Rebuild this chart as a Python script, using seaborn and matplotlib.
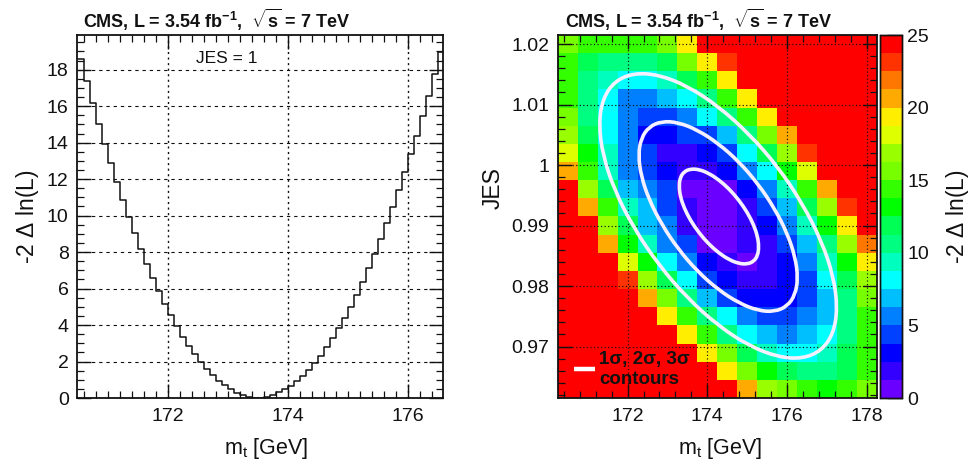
import numpy as np
import matplotlib
matplotlib.use("Agg")
import matplotlib.pyplot as plt
from matplotlib.colors import ListedColormap
from matplotlib.patches import PathPatch
from matplotlib.path import Path
from matplotlib.ticker import MultipleLocator, FixedLocator, FixedFormatter
import seaborn as sns

# ---- left panel: 1D profile, JES = 1
nll_1d = [18.6, 17.4, 16.18, 15.03, 13.92, 12.86, 11.82, 10.85, 9.92, 9.02,
          8.16, 7.34, 6.58, 5.84, 5.15,
          4.53, 3.93, 3.36, 2.87, 2.39, 1.95, 1.57, 1.24, 0.95, 0.71,
          0.47, 0.30, 0.16, 0.07, 0.01, 0.0, 0.07, 0.16, 0.31, 0.47,
          0.66, 0.91, 1.22, 1.53, 1.90, 2.32, 2.78, 3.27, 3.82, 4.40,
          5.0, 5.66, 6.36, 7.11, 7.87, 8.70, 9.57, 10.45, 11.38, 12.37,
          13.35, 14.39, 15.47, 16.58, 17.75, 18.98]
mt_bins = [round(170.5 + 0.1 * i, 1) for i in range(len(nll_1d) + 1)]

# ---- right panel: colour band of each cell, read top row first
bands = [
    [12, 11, 11, 11, 11, 12, 15, 19, 19, 19, 19, 19, 19, 19, 19, 19],
    [11,  9,  8,  8,  8,  9, 12, 15, 18, 19, 19, 19, 19, 19, 19, 19],
    [11,  8,  7,  6,  6,  7,  9, 11, 15, 19, 19, 19, 19, 19, 19, 19],
    [11,  8,  6,  4,  4,  5,  6,  8, 11, 15, 19, 19, 19, 19, 19, 19],
    [12,  8,  6,  4,  3,  3,  4,  6,  8, 11, 15, 19, 19, 19, 19, 19],
    [13,  9,  6,  4,  2,  2,  3,  3,  5,  8, 12, 16, 19, 19, 19, 19],
    [14, 10,  7,  4,  3,  1,  1,  2,  3,  6,  9, 13, 18, 19, 19, 19],
    [16, 11,  7,  4,  3,  2,  1,  1,  2,  4,  6, 10, 14, 19, 19, 19],
    [19, 13,  9,  5,  4,  3,  0,  0,  0,  2,  4,  7, 11, 16, 19, 19],
    [19, 16, 11,  7,  5,  3,  1,  0,  0,  1,  3,  5,  9, 13, 18, 19],
    [19, 19, 13,  9,  5,  4,  1,  0,  0,  1,  2,  4,  7, 10, 15, 19],
    [19, 19, 16, 10,  7,  4,  3,  0,  0,  1,  1,  3,  5,  8, 13, 17],
    [19, 19, 19, 14, 10,  6,  4,  2,  1,  0,  1,  2,  4,  7, 10, 15],
    [19, 19, 19, 18, 13,  9,  6,  3,  2,  1,  1,  2,  3,  6,  9, 13],
    [19, 19, 19, 19, 16, 12,  8,  5,  3,  2,  2,  2,  3,  5,  8, 12],
    [19, 19, 19, 19, 19, 15, 11,  8,  6,  4,  3,  3,  4,  5,  8, 11],
    [19, 19, 19, 19, 19, 19, 15, 11,  8,  6,  5,  4,  5,  6,  8, 11],
    [19, 19, 19, 19, 19, 19, 19, 15, 12,  9,  7,  6,  6,  7,  9, 11],
    [19, 19, 19, 19, 19, 19, 19, 19, 15, 12, 10,  9,  8,  8,  9, 11],
    [19, 19, 19, 19, 19, 19, 19, 19, 19, 16, 13, 12, 11, 10, 11, 12],
]
palette = ["#6a00ff", "#3300ff", "#0000ff", "#0040ff", "#0080ff", "#00bfff",
           "#00ffff", "#00ffbf", "#00ff80", "#00ff55", "#00ff00", "#33ff00",
           "#77ff00", "#99ff00", "#ddff00", "#ffee00", "#ffaa00", "#ff7700",
           "#ff3300", "#ff0000"]

# ---- contour outlines
c3_x = [177.26,177.16,176.86,176.38,175.77,175.04,174.27,173.50,172.78,172.16,171.68,171.38,
        171.28,171.38,171.68,172.16,172.78,173.50,174.27,175.04,175.77,176.38,176.86,177.16]
c3_y = [.97636,.98157,.98748,.99366,.99971,1.0052,1.00975,1.01307,1.01494,1.01521,1.01388,1.01101,
        1.00684,1.00163,.99572,.98954,.98349,.978,.97345,.97013,.96826,.96799,.96932,.97219]
c2_x = [176.27,176.20,176.00,175.68,175.27,174.79,174.27,173.75,173.27,172.86,172.54,172.34,
        172.27,172.34,172.54,172.86,173.27,173.75,174.27,174.79,175.27,175.68,176.00,176.20]
c2_y = [.98134,.98482,.98875,.99287,.9969,1.00057,1.0036,1.00581,1.00706,1.00724,1.00635,1.00444,
        1.00166,.99818,.99425,.99013,.9861,.98243,.9794,.97719,.97594,.97576,.97665,.97856]
c1_x = [175.29,175.26,175.16,175.0,174.79,174.55,174.29,174.03,173.79,173.58,173.42,173.32,
        173.29,173.32,173.42,173.58,173.79,174.03,174.29,174.55,174.79,175.0,175.16,175.26]
c1_y = [.98642,.98816,.99013,.99219,.9942,.99603,.99755,.99866,.99928,.99937,.99893,.99797,
        .99658,.99484,.99287,.99081,.9888,.98697,.98545,.98434,.98372,.98363,.98407,.98503]

y_ticks_r = [0.97, 0.98, 0.99, 1.0, 1.01, 1.02]
y_labels_r = ["0.97", "0.98", "0.99", "1", "1.01", "1.02"]
x_ticks_r = [172, 174, 176, 178]

sns.set_theme(style="ticks")
plt.rcParams.update({
    "font.family": ["Liberation Sans", "DejaVu Sans"],
    "mathtext.fontset": "custom",
    "mathtext.rm": "Liberation Sans",
    "mathtext.bf": "Liberation Sans:bold",
    "mathtext.it": "Liberation Sans:italic",
    "mathtext.default": "regular",
    "axes.linewidth": 1.3,
    "text.color": "#111111",
    "axes.labelcolor": "#111111",
})

W, H = 979, 461
def box(x0, y0, x1, y1):
    return [x0 / W, 1 - y1 / H, (x1 - x0) / W, (y1 - y0) / H]

fig = plt.figure(figsize=(W / 100, H / 100), dpi=100, facecolor="white")
TITLE = r"CMS, L = 3.54 fb$^{\mathbf{-1}}$,  $\mathbf{\sqrt{s}}$ = 7 TeV"
TS, LS, XS = 13.0, 14.0, 15.5

def style(ax, major, minor):
    ax.tick_params(which="both", direction="in", top=True, right=True,
                   labelsize=LS, colors="#111111", pad=6, width=1.0)
    ax.tick_params(which="major", length=major)
    ax.tick_params(which="minor", length=minor, width=0.9)
    ax.tick_params(axis="x", pad=7)
    for s in ax.spines.values():
        s.set_visible(True)
        s.set_color("#111111")

def closed_curve(xs, ys):
    # the read points are the control points of a closed curve
    n = len(xs)
    verts, codes = [], []
    mid = lambda i: ((xs[i % n] + xs[(i + 1) % n]) / 2, (ys[i % n] + ys[(i + 1) % n]) / 2)
    verts.append(mid(-1)); codes.append(Path.MOVETO)
    for i in range(n):
        verts += [(xs[i], ys[i]), mid(i)]
        codes += [Path.CURVE3, Path.CURVE3]
    return Path(verts, codes)

# ---- left panel
ax = fig.add_axes(box(77, 35, 443, 398))
sns.histplot(x=[e + 0.05 for e in mt_bins[:-1]], weights=nll_1d, bins=mt_bins,
             element="step", fill=False, color="#111111", linewidth=1.1, ax=ax)
ax.set_xlim(170.48, 176.58)
ax.set_ylim(0, 19.9)
ax.xaxis.set_major_locator(MultipleLocator(2))
ax.xaxis.set_minor_locator(MultipleLocator(0.2))
ax.yaxis.set_major_locator(MultipleLocator(2))
ax.yaxis.set_minor_locator(MultipleLocator(0.5))
ax.grid(True, axis="y", which="major", color="#111111", linestyle=(0, (3, 3.5)), linewidth=0.8)
ax.grid(True, axis="x", which="major", color="#111111", linestyle=(0, (1.5, 2.5)), linewidth=1.0)
ax.set_axisbelow(False)
style(ax, 10, 5)
ax.set_xlabel(r"m$_t$ [GeV]", fontsize=XS)
ax.set_ylabel(r"-2 $\Delta$ ln(L)", fontsize=XS + 1)
ax.xaxis.set_label_coords(0.518, -0.105)
ax.yaxis.set_label_coords(-0.099, 0.5)
ax.text(6 / 366, 1 + 2 / 363, TITLE, transform=ax.transAxes, fontsize=TS,
        fontweight="bold", ha="left", va="bottom")
ax.text(0.41, 0.935, "JES = 1", transform=ax.transAxes, fontsize=12.5, ha="center", va="center")

# ---- right panel: heatmap, with a real-valued overlay for scales and contours
hm_ax = fig.add_axes(box(557.7, 35, 877, 398))
cax = fig.add_axes(box(880, 35, 901.7, 398))
z = (np.array(bands) + 0.5) * 1.25
sns.heatmap(z, ax=hm_ax, cmap=ListedColormap(palette), vmin=0, vmax=25, cbar_ax=cax,
            xticklabels=False, yticklabels=False, linewidths=0)
hm_ax.set_axis_off()
cax.yaxis.set_major_locator(FixedLocator([0, 5, 10, 15, 20, 25]))
cax.tick_params(which="both", direction="in", length=11, width=1.0, labelsize=LS,
                colors="#111111", pad=4, right=True, left=False)
for s in cax.spines.values():
    s.set_visible(True); s.set_color("#111111"); s.set_linewidth(1.0)
cax.set_ylabel(r"-2 $\Delta$ ln(L)", fontsize=XS + 1)
cax.yaxis.set_label_coords(2.93, 0.5)

ov = fig.add_axes(box(557.7, 35, 877, 398), facecolor="none")
ov.set_xlim(170.25, 178.25)
ov.set_ylim(0.9615, 1.0215)
for cx, cy in ((c3_x, c3_y), (c2_x, c2_y), (c1_x, c1_y)):
    ov.add_patch(PathPatch(closed_curve(cx, cy), facecolor="none", edgecolor="#f4f0ff", lw=2.6))
ov.xaxis.set_major_locator(FixedLocator(x_ticks_r))
ov.xaxis.set_minor_locator(MultipleLocator(0.4))
ov.yaxis.set_major_locator(FixedLocator(y_ticks_r))
ov.yaxis.set_major_formatter(FixedFormatter(y_labels_r))
ov.yaxis.set_minor_locator(MultipleLocator(0.002))
ov.grid(True, which="major", color="#111111", linestyle=(0, (1, 2)), linewidth=0.85)
style(ov, 10, 5)
ov.set_xlabel(r"m$_t$ [GeV]", fontsize=XS)
ov.xaxis.set_label_coords(0.51, -0.105)
ov.set_ylabel("JES", fontsize=XS + 1)
ov.yaxis.set_label_coords(-0.165, 0.578)
ov.text(7 / 319, 1 + 2 / 363, TITLE, transform=ov.transAxes, fontsize=TS,
        fontweight="bold", ha="left", va="bottom")
ov.plot([170.66, 171.18], [0.96623, 0.96623], color="white", lw=3.2, solid_capstyle="butt")
ov.text(171.28, 0.9662, "1σ, 2σ, 3σ\ncontours", fontsize=13.5, fontweight="bold",
        ha="left", va="center", linespacing=1.22, color="#111111")

fig.savefig("out.png", dpi=100, facecolor="white")
